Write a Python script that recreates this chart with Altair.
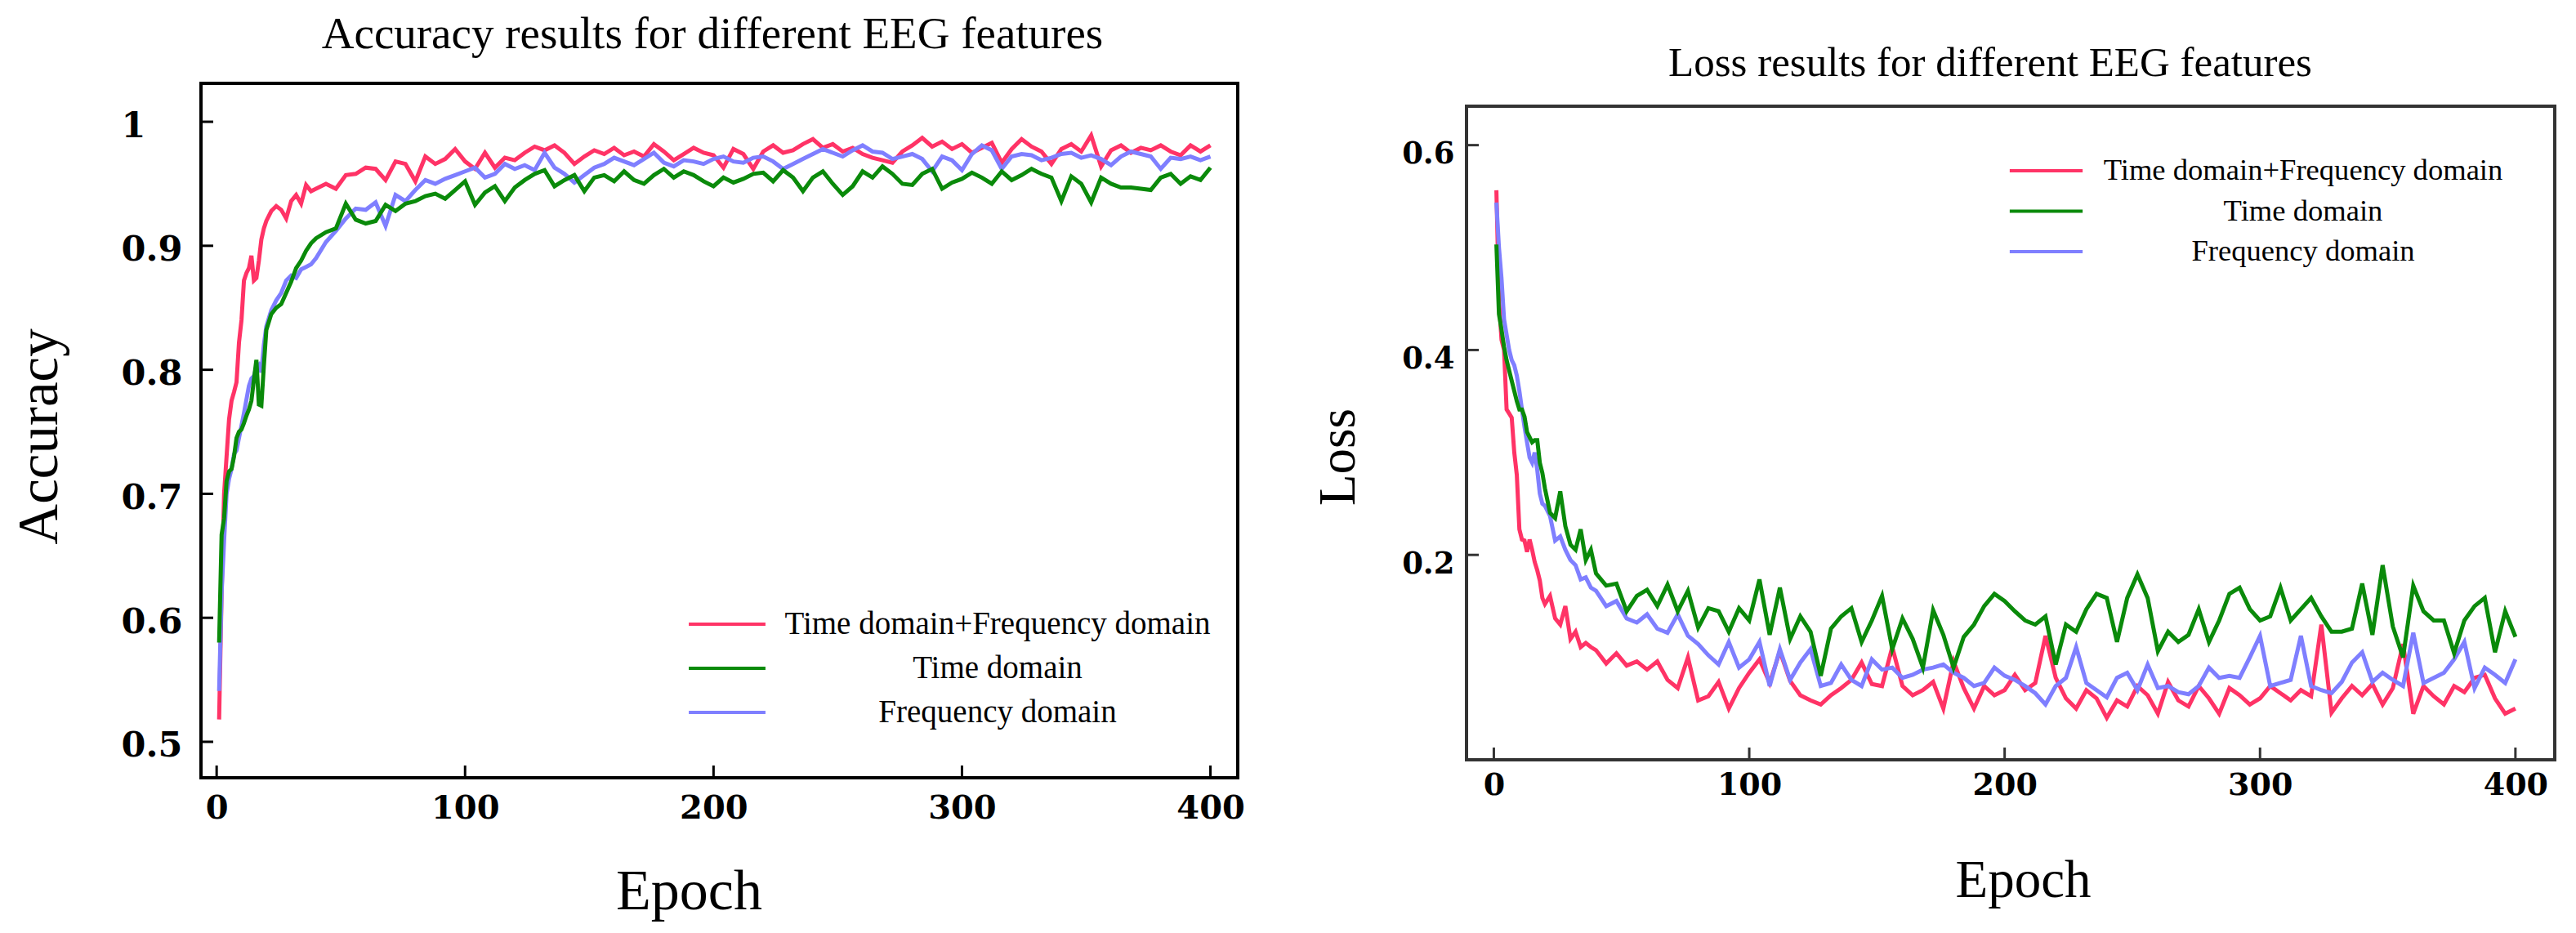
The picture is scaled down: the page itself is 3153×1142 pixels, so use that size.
import altair as alt
import pandas as pd

# epochs sampled from the curves (dense at the start, every 4 epochs after)
EPOCHS = list(range(1, 21)) + list(range(22, 41, 2)) + list(range(44, 401, 4))

SERIES = ["Time domain+Frequency domain", "Time domain", "Frequency domain"]
COLORS = ["#ff3366", "#0a8a0a", "#7f7fff"]

# accuracy curves
ACC_TF = [
    0.518, 0.620, 0.700, 0.730, 0.760, 0.775, 0.782, 0.790, 0.822, 0.840,
    0.872, 0.878, 0.882, 0.892, 0.872, 0.874, 0.888, 0.905, 0.914, 0.920,
    0.928, 0.932, 0.929, 0.922, 0.936, 0.941, 0.934, 0.949, 0.944, 0.946,
    0.950, 0.946, 0.957, 0.958, 0.963, 0.962, 0.953, 0.968, 0.966, 0.952,
    0.972, 0.966, 0.970, 0.978, 0.968, 0.962, 0.975, 0.963, 0.971, 0.969,
    0.975, 0.980, 0.977, 0.981, 0.975, 0.966, 0.972, 0.977, 0.974, 0.979,
    0.973, 0.976, 0.972, 0.982, 0.976, 0.969, 0.974, 0.979, 0.975, 0.973,
    0.963, 0.978, 0.974, 0.962, 0.976, 0.981, 0.975, 0.977, 0.982, 0.986,
    0.979, 0.982, 0.976, 0.979, 0.974, 0.971, 0.969, 0.967, 0.976, 0.981,
    0.987, 0.980, 0.984, 0.978, 0.982, 0.975, 0.979, 0.983, 0.967, 0.978,
    0.986, 0.980, 0.976, 0.966, 0.978, 0.982, 0.976, 0.989, 0.964, 0.977,
    0.981, 0.975, 0.979, 0.977, 0.981, 0.976, 0.973, 0.981, 0.976, 0.981,
]
ACC_T = [
    0.580, 0.667, 0.680, 0.710, 0.718, 0.720, 0.730, 0.745, 0.750, 0.752,
    0.757, 0.763, 0.768, 0.775, 0.792, 0.808, 0.772, 0.771, 0.803, 0.832,
    0.845, 0.850, 0.853, 0.862, 0.871, 0.882, 0.888, 0.896, 0.902, 0.906,
    0.911, 0.914, 0.934, 0.921, 0.918, 0.920, 0.933, 0.928, 0.934, 0.936,
    0.940, 0.942, 0.938, 0.945, 0.952, 0.933, 0.943, 0.948, 0.936, 0.947,
    0.953, 0.958, 0.961, 0.948, 0.953, 0.957, 0.944, 0.955, 0.957, 0.952,
    0.960, 0.953, 0.950, 0.957, 0.962, 0.955, 0.960, 0.957, 0.952, 0.948,
    0.955, 0.951, 0.954, 0.958, 0.959, 0.952, 0.961, 0.955, 0.944, 0.955,
    0.960, 0.950, 0.941, 0.948, 0.960, 0.955, 0.964, 0.958, 0.950, 0.949,
    0.958, 0.962, 0.946, 0.951, 0.954, 0.959, 0.955, 0.950, 0.960, 0.953,
    0.957, 0.962, 0.958, 0.955, 0.936, 0.956, 0.950, 0.935, 0.955, 0.950,
    0.947, 0.947, 0.946, 0.945, 0.955, 0.958, 0.950, 0.956, 0.953, 0.963,
]
ACC_F = [
    0.541, 0.620, 0.662, 0.700, 0.712, 0.720, 0.732, 0.735, 0.745, 0.755,
    0.765, 0.776, 0.787, 0.793, 0.795, 0.802, 0.804, 0.798, 0.820, 0.835,
    0.848, 0.856, 0.862, 0.872, 0.876, 0.874, 0.881, 0.883, 0.885, 0.890,
    0.903, 0.912, 0.922, 0.930, 0.929, 0.935, 0.916, 0.941, 0.936, 0.945,
    0.953, 0.950, 0.954, 0.957, 0.960, 0.963, 0.955, 0.958, 0.966, 0.962,
    0.965, 0.961, 0.975, 0.963, 0.958, 0.951, 0.957, 0.963, 0.966, 0.971,
    0.968, 0.965, 0.970, 0.975, 0.967, 0.964, 0.969, 0.968, 0.966, 0.970,
    0.972, 0.968, 0.967, 0.971, 0.972, 0.968, 0.962, 0.966, 0.970, 0.974,
    0.978, 0.975, 0.972, 0.977, 0.981, 0.976, 0.975, 0.970, 0.972, 0.974,
    0.970, 0.960, 0.972, 0.969, 0.961, 0.974, 0.981, 0.977, 0.962, 0.972,
    0.974, 0.973, 0.969, 0.971, 0.974, 0.975, 0.971, 0.973, 0.970, 0.965,
    0.972, 0.976, 0.974, 0.972, 0.962, 0.971, 0.970, 0.972, 0.969, 0.972,
]

# loss curves
LOSS_TF = [
    0.556, 0.450, 0.410, 0.400, 0.342, 0.338, 0.334, 0.300, 0.278, 0.225,
    0.215, 0.214, 0.203, 0.215, 0.205, 0.193, 0.185, 0.175, 0.158, 0.152,
    0.160, 0.138, 0.132, 0.150, 0.118, 0.125, 0.110, 0.114, 0.110, 0.107,
    0.094, 0.104, 0.092, 0.096, 0.088, 0.096, 0.078, 0.070, 0.100, 0.058,
    0.062, 0.076, 0.050, 0.070, 0.085, 0.098, 0.075, 0.106, 0.077, 0.063,
    0.058, 0.054, 0.063, 0.070, 0.078, 0.095, 0.074, 0.072, 0.110, 0.072,
    0.063, 0.068, 0.076, 0.050, 0.096, 0.070, 0.050, 0.072, 0.063, 0.068,
    0.083, 0.068, 0.075, 0.121, 0.080, 0.060, 0.050, 0.068, 0.060, 0.041,
    0.058, 0.052, 0.072, 0.063, 0.045, 0.076, 0.058, 0.052, 0.072, 0.060,
    0.045, 0.070, 0.063, 0.054, 0.060, 0.072, 0.065, 0.058, 0.068, 0.062,
    0.132, 0.046, 0.060, 0.072, 0.063, 0.074, 0.054, 0.070, 0.113, 0.045,
    0.072, 0.062, 0.054, 0.072, 0.066, 0.080, 0.083, 0.060, 0.045, 0.050,
]
LOSS_T = [
    0.503, 0.435, 0.420, 0.403, 0.390, 0.380, 0.370, 0.360, 0.350, 0.342,
    0.342, 0.335, 0.320, 0.315, 0.310, 0.312, 0.312, 0.290, 0.280, 0.265,
    0.241, 0.236, 0.262, 0.228, 0.210, 0.205, 0.225, 0.195, 0.205, 0.182,
    0.170, 0.172, 0.145, 0.160, 0.166, 0.150, 0.171, 0.145, 0.165, 0.129,
    0.148, 0.145, 0.125, 0.148, 0.136, 0.176, 0.122, 0.168, 0.118, 0.140,
    0.125, 0.082, 0.128, 0.140, 0.148, 0.115, 0.136, 0.160, 0.108, 0.138,
    0.118, 0.090, 0.146, 0.122, 0.090, 0.120, 0.132, 0.150, 0.162, 0.155,
    0.145, 0.136, 0.132, 0.140, 0.093, 0.132, 0.125, 0.147, 0.162, 0.158,
    0.115, 0.158, 0.181, 0.158, 0.106, 0.125, 0.115, 0.122, 0.147, 0.115,
    0.136, 0.162, 0.168, 0.147, 0.136, 0.140, 0.168, 0.136, 0.147, 0.158,
    0.140, 0.125, 0.125, 0.128, 0.172, 0.122, 0.190, 0.130, 0.100, 0.170,
    0.145, 0.136, 0.136, 0.104, 0.136, 0.150, 0.158, 0.105, 0.145, 0.120,
]
LOSS_F = [
    0.544, 0.500, 0.470, 0.430, 0.415, 0.400, 0.390, 0.385, 0.375, 0.360,
    0.342, 0.325, 0.310, 0.295, 0.290, 0.300, 0.283, 0.260, 0.250, 0.248,
    0.238, 0.214, 0.218, 0.205, 0.195, 0.190, 0.176, 0.178, 0.168, 0.165,
    0.150, 0.155, 0.138, 0.134, 0.142, 0.128, 0.124, 0.142, 0.121, 0.113,
    0.102, 0.093, 0.115, 0.090, 0.098, 0.115, 0.072, 0.108, 0.078, 0.095,
    0.108, 0.072, 0.075, 0.093, 0.078, 0.072, 0.098, 0.088, 0.090, 0.080,
    0.083, 0.088, 0.090, 0.093, 0.085, 0.080, 0.072, 0.075, 0.090, 0.082,
    0.078, 0.072, 0.065, 0.054, 0.072, 0.080, 0.110, 0.075, 0.068, 0.061,
    0.080, 0.085, 0.068, 0.093, 0.070, 0.072, 0.066, 0.064, 0.072, 0.090,
    0.080, 0.082, 0.080, 0.100, 0.121, 0.072, 0.075, 0.078, 0.121, 0.072,
    0.068, 0.065, 0.076, 0.095, 0.105, 0.076, 0.085, 0.078, 0.072, 0.124,
    0.075, 0.080, 0.085, 0.098, 0.115, 0.070, 0.090, 0.083, 0.075, 0.098,
]

X_TICKS = [0, 100, 200, 300, 400]
ACC_Y_TICKS = [0.5, 0.6, 0.7, 0.8, 0.9, 1.0]
LOSS_Y_TICKS = [0.2, 0.4, 0.6]

SERIF = "Liberation Serif"
TICK_FONT = "DejaVu Serif"


def long_frame(columns):
    rows = []
    for name, vals in zip(SERIES, columns):
        for e, v in zip(EPOCHS, vals):
            rows.append({"epoch": e, "series": name, "value": v})
    return pd.DataFrame(rows)


def panel(df, c):
    x = alt.X(
        "epoch:Q",
        scale=alt.Scale(domain=c["xdom"], nice=False, zero=False),
        axis=alt.Axis(
            values=X_TICKS, format="d", grid=False, domain=False, ticks=False,
            labelFont=TICK_FONT, labelFontWeight="bold", labelFontSize=c["xlab"],
            labelColor="black", labelPadding=c["xpad"], labelFlush=False,
            title="Epoch", titleFont=SERIF, titleFontWeight="normal",
            titleFontSize=c["xtitle_size"], titleColor="black",
            titleX=c["xtitle_x"], titleY=c["xtitle_y"],
            titleAlign="center", titleBaseline="alphabetic",
        ),
    )
    y = alt.Y(
        "value:Q",
        scale=alt.Scale(domain=c["ydom"], nice=False, zero=False),
        axis=alt.Axis(
            values=c["yticks"], format="~g", grid=False, domain=False, ticks=False,
            labelFont=TICK_FONT, labelFontWeight="bold", labelFontSize=c["ylab"],
            labelColor="black", labelAlign=c["yalign"], labelBaseline="middle",
            labelPadding=c["ypad"], labelOffset=c["yoff"], labelFlush=False,
            title=c["ytitle"], titleFont=SERIF, titleFontWeight="normal",
            titleFontSize=c["ytitle_size"], titleColor="black", titleAngle=270,
            titleX=c["ytitle_x"], titleY=c["ytitle_y"],
            titleAlign="center", titleBaseline="middle",
        ),
    )
    color = alt.Color(
        "series:N",
        scale=alt.Scale(domain=SERIES, range=COLORS),
        legend=alt.Legend(
            title=None, orient="none", legendX=c["legx"], legendY=c["legy"],
            direction="vertical", padding=0,
            symbolType=c["sym"], symbolSize=2601, symbolStrokeWidth=4,
            labelFont=SERIF, labelFontSize=c["legfont"], labelColor="black",
            labelAlign="center", labelBaseline="middle",
            labelOffset=c["legoff"], rowPadding=c["legrow"], labelLimit=0,
        ),
    )
    lines = [
        alt.Chart(df).transform_filter(alt.datum.series == s)
        .mark_line(strokeWidth=5, clip=True)
        .encode(x=x, y=y, color=color)
        for s in [SERIES[0], SERIES[2], SERIES[1]]
    ]
    yticks = alt.Chart(pd.DataFrame({"value": c["yticks"]})).mark_rule(
        strokeWidth=3, color=c["frame"]
    ).encode(y=y, x=alt.value(0), x2=alt.value(15))
    xticks = alt.Chart(pd.DataFrame({"epoch": X_TICKS})).mark_rule(
        strokeWidth=3, color=c["frame"]
    ).encode(x=x, y=alt.value(c["h"]), y2=alt.value(c["h"] - 15))
    return alt.layer(*lines, yticks, xticks).properties(
        width=c["w"], height=c["h"],
        title=alt.TitleParams(
            c["title"], font=SERIF, fontSize=c["title_size"], fontWeight="normal",
            color="black", anchor="middle", baseline="alphabetic",
            offset=c["title_off"], dx=c["title_dx"],
        ),
        view=alt.ViewBackground(stroke=c["frame"], strokeWidth=4, fill="white"),
    )


acc = panel(long_frame([ACC_TF, ACC_T, ACC_F]), {
    "w": 1269, "h": 850, "xdom": [-6.3, 411], "ydom": [0.471, 1.031],
    "yticks": ACC_Y_TICKS, "xlab": 40, "xpad": 17, "ylab": 43,
    "yalign": "left", "ypad": 98, "yoff": 5,
    "xtitle_size": 70, "xtitle_x": 597, "xtitle_y": 160.5,
    "ytitle": "Accuracy", "ytitle_size": 69, "ytitle_x": -198, "ytitle_y": 432,
    "legx": 616.5, "legy": 634.5, "sym": "M-1.84,0H1.84", "legfont": 39,
    "legoff": 303.5, "legrow": 6,
    "title": "Accuracy results for different EEG features", "title_size": 55,
    "title_off": -12, "title_dx": -8.5, "frame": "black",
})

loss = panel(long_frame([LOSS_TF, LOSS_T, LOSS_F]), {
    "w": 1332, "h": 800, "xdom": [-10.7, 415.4], "ydom": [0, 0.638],
    "yticks": LOSS_Y_TICKS, "xlab": 38, "xpad": 12, "ylab": 37,
    "yalign": "right", "ypad": 15, "yoff": 11,
    "xtitle_size": 65, "xtitle_x": 681, "xtitle_y": 167.5,
    "ytitle": "Loss", "ytitle_size": 63, "ytitle_x": -157, "ytitle_y": 429,
    "legx": 682, "legy": 79.5, "sym": "M-1.75,0H1.75", "legfont": 36.6,
    "legoff": 287, "legrow": 2.5,
    "title": "Loss results for different EEG features", "title_size": 51,
    "title_off": -14, "title_dx": -25, "frame": "#333333",
})

# invisible block that pushes the loss panel down
spacer = alt.Chart(pd.DataFrame({"pad": [0]})).mark_point(opacity=0).encode(
    x=alt.value(0), y=alt.value(0)
).properties(width=10, height=28, view=alt.ViewBackground(stroke="transparent"))

right = alt.vconcat(spacer, loss, spacing=0, bounds="flush")

chart = alt.hconcat(acc, right, spacing=280, bounds="flush").resolve_scale(
    color="independent"
).resolve_legend(color="independent").properties(
    padding={"left": 4, "top": 5, "right": 0, "bottom": 0},
    background="white",
)

chart.save("out.html", embed_options={"renderer": "svg", "actions": False})
